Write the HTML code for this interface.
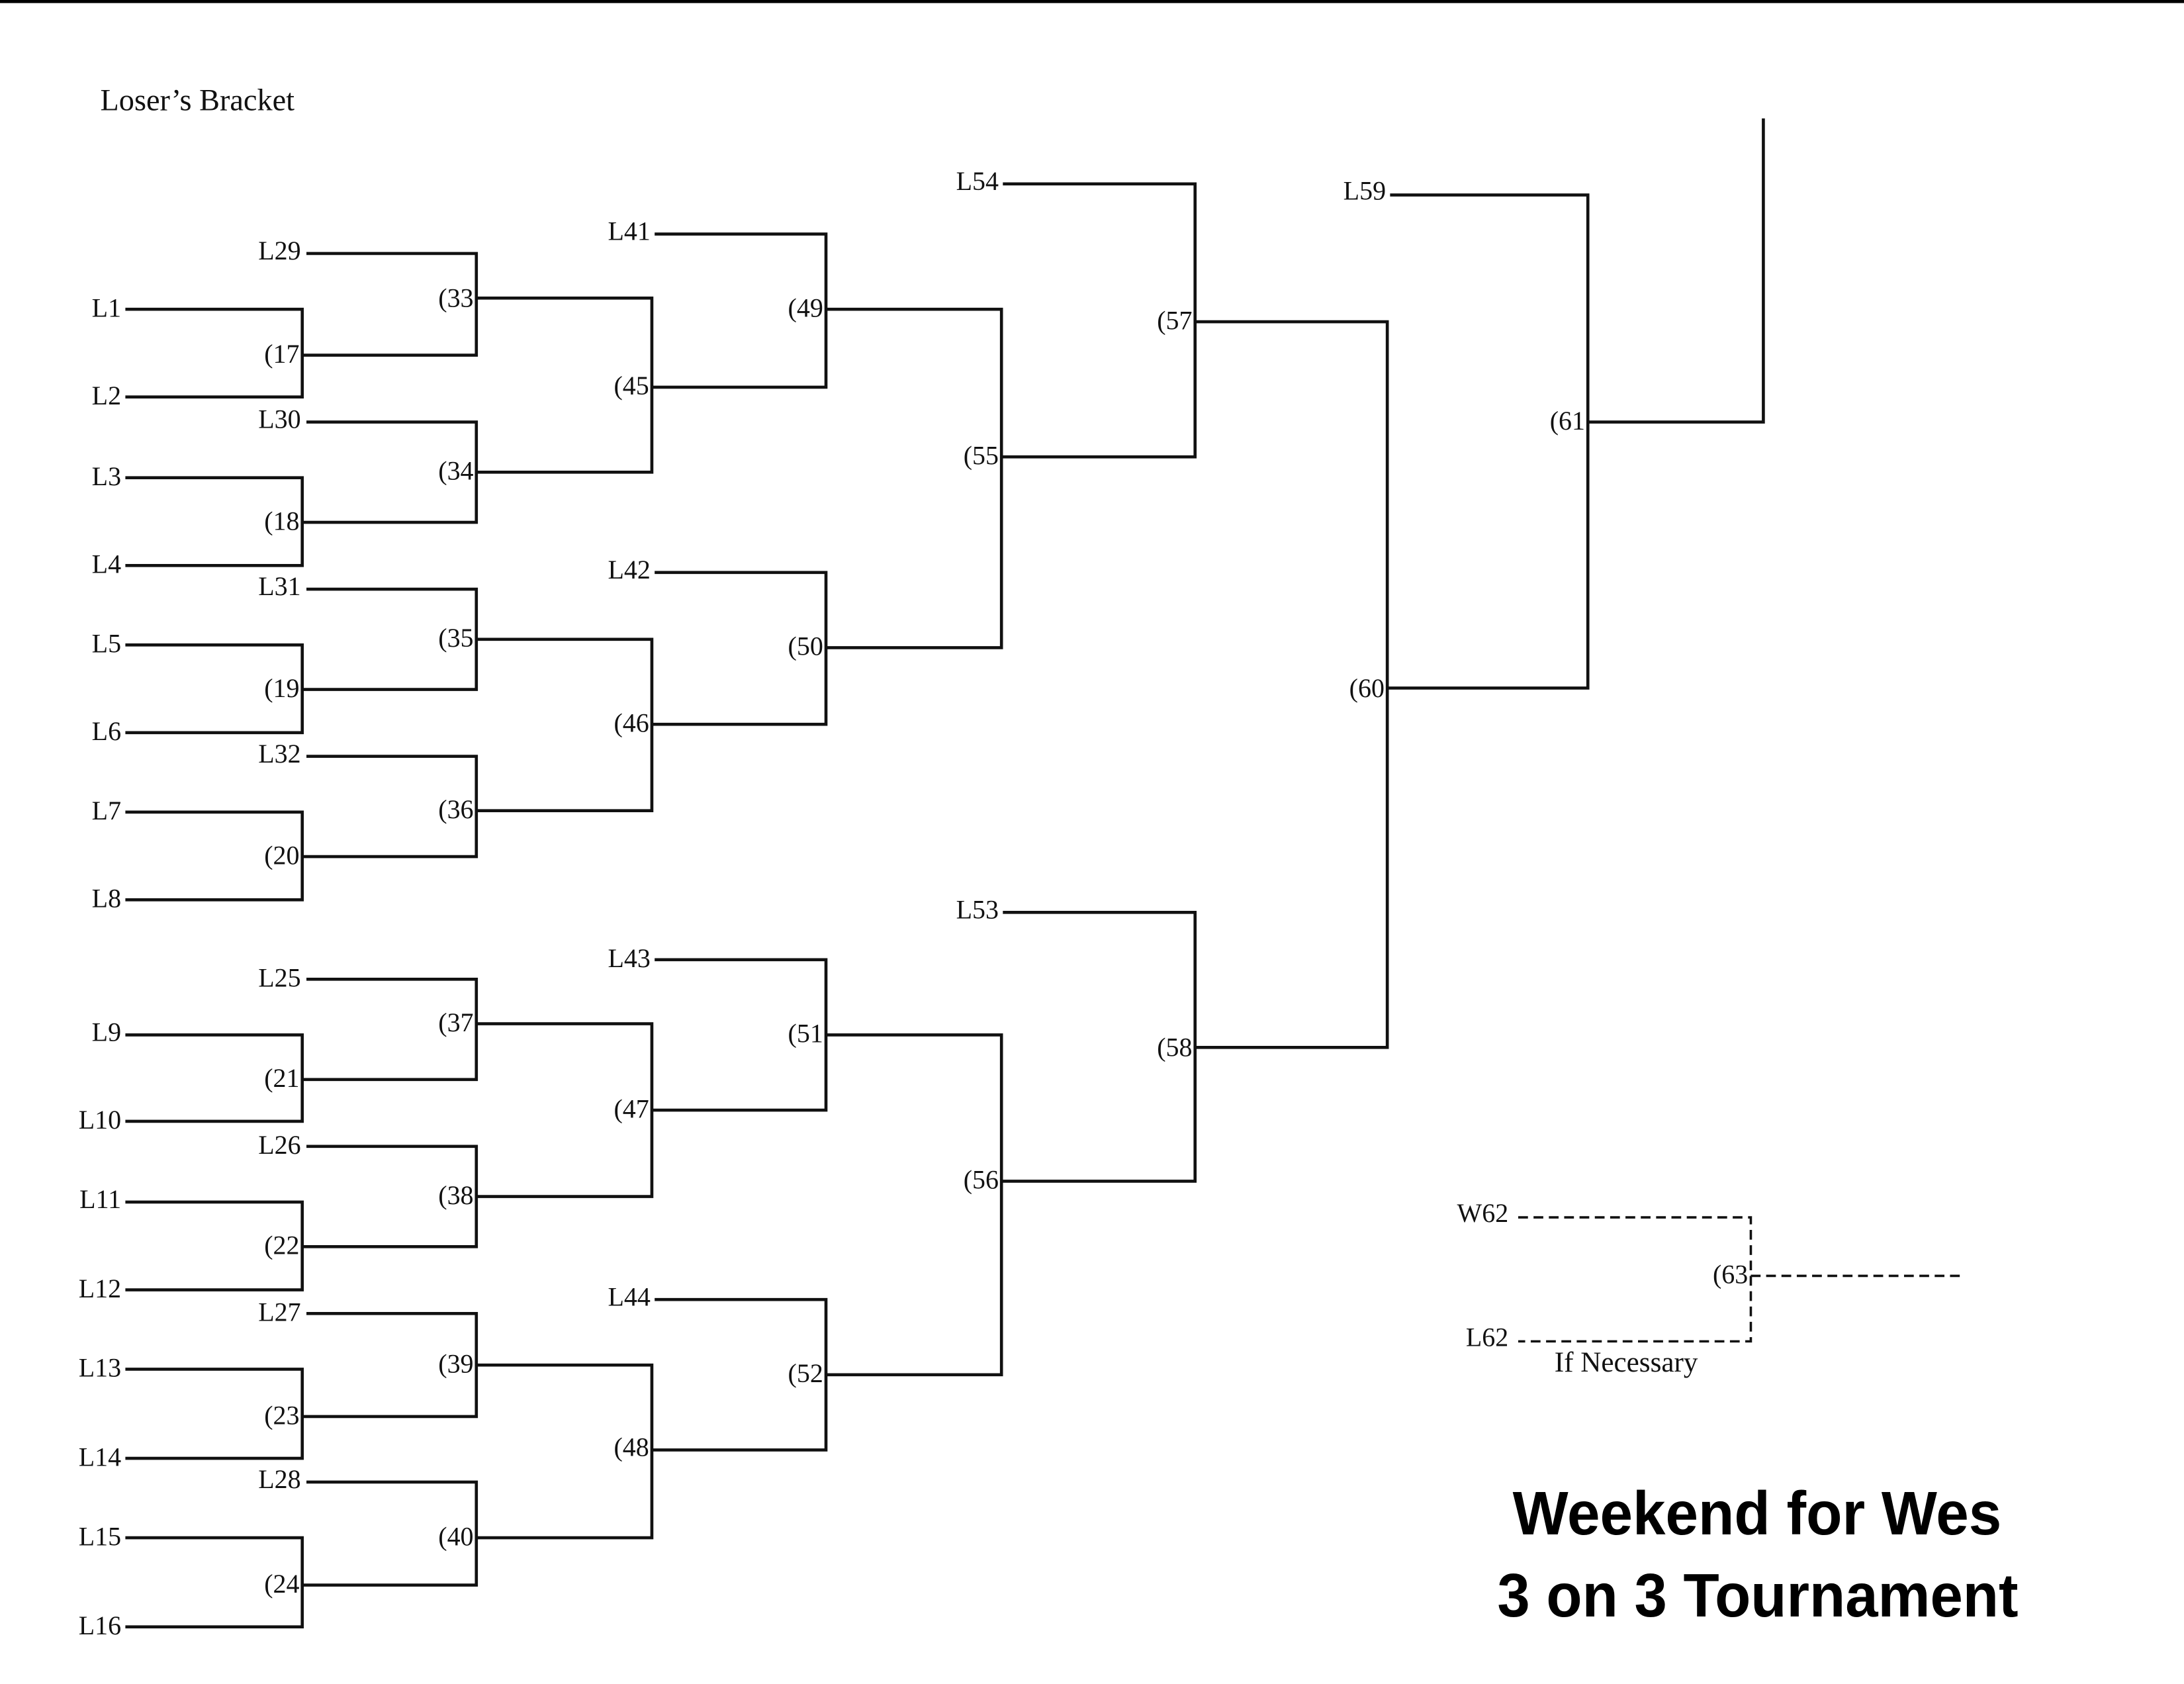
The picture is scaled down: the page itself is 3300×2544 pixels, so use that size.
<!DOCTYPE html>
<html><head><meta charset="utf-8"><style>
html,body{margin:0;padding:0;background:#fff;}
svg{display:block;}
text{font-family:"Liberation Serif",serif;font-size:19px;fill:#111;dominant-baseline:middle;}
.e{text-anchor:end;}
</style></head><body>
<svg width="3300" height="2544" viewBox="0 0 1568 1209" preserveAspectRatio="none" xmlns="http://www.w3.org/2000/svg">
<rect x="0" y="0" width="1568" height="2.2" fill="#000"/>
<g fill="none" stroke="#111" stroke-width="2.2">
<path d="M90 222H217V285H90"/><path d="M90 343H217V406H90"/>
<path d="M90 463H217V526H90"/><path d="M90 583H217V646H90"/>
<path d="M90 743H217V805H90"/><path d="M90 863H217V926H90"/>
<path d="M90 983H217V1047H90"/><path d="M90 1104H217V1168H90"/>
<path d="M220 182H342V255H217"/><path d="M220 303H342V375H217"/>
<path d="M220 423H342V495H217"/><path d="M220 543H342V615H217"/>
<path d="M220 703H342V775H217"/><path d="M220 823H342V895H217"/>
<path d="M220 943H342V1017H217"/><path d="M220 1064H342V1138H217"/>
<path d="M342 214H468V339H342"/><path d="M342 459H468V582H342"/>
<path d="M342 735H468V859H342"/><path d="M342 980H468V1104H342"/>
<path d="M470 168H593V278H468"/><path d="M470 411H593V520H468"/>
<path d="M470 689H593V797H468"/><path d="M470 933H593V1041H468"/>
<path d="M593 222H719V465H593"/><path d="M593 743H719V987H593"/>
<path d="M720 132H858V328H719"/><path d="M720 655H858V848H719"/>
<path d="M858 231H996V752H858"/>
<path d="M998 140H1140V494H996"/>
<path d="M1140 303H1266V85"/>
</g>
<g fill="none" stroke="#111" stroke-width="1.7" stroke-dasharray="7,4">
<path d="M1090 874H1257V963H1090"/>
<path d="M1257 916H1410"/>
</g>
<text x="72" y="74" style="font-size:22px">Loser’s Bracket</text>
<g>
<text class="e" x="87" y="223">L1</text><text class="e" x="87" y="286">L2</text>
<text class="e" x="87" y="344">L3</text><text class="e" x="87" y="407">L4</text>
<text class="e" x="87" y="464">L5</text><text class="e" x="87" y="527">L6</text>
<text class="e" x="87" y="584">L7</text><text class="e" x="87" y="647">L8</text>
<text class="e" x="87" y="743">L9</text><text class="e" x="87" y="806">L10</text>
<text class="e" x="87" y="863">L11</text><text class="e" x="87" y="927">L12</text>
<text class="e" x="87" y="984">L13</text><text class="e" x="87" y="1048">L14</text>
<text class="e" x="87" y="1105">L15</text><text class="e" x="87" y="1169">L16</text>
<text class="e" x="216" y="182">L29</text><text class="e" x="216" y="303">L30</text>
<text class="e" x="216" y="423">L31</text><text class="e" x="216" y="543">L32</text>
<text class="e" x="216" y="704">L25</text><text class="e" x="216" y="824">L26</text>
<text class="e" x="216" y="944">L27</text><text class="e" x="216" y="1064">L28</text>
<text class="e" x="467" y="168">L41</text><text class="e" x="467" y="411">L42</text>
<text class="e" x="467" y="690">L43</text><text class="e" x="467" y="933">L44</text>
<text class="e" x="717" y="132">L54</text><text class="e" x="717" y="655">L53</text>
<text class="e" x="995" y="139">L59</text>
<text class="e" x="1083" y="873">W62</text><text class="e" x="1083" y="962">L62</text>
<text class="e" x="215" y="256">(17</text><text class="e" x="215" y="376">(18</text>
<text class="e" x="215" y="496">(19</text><text class="e" x="215" y="616">(20</text>
<text class="e" x="215" y="776">(21</text><text class="e" x="215" y="896">(22</text>
<text class="e" x="215" y="1018">(23</text><text class="e" x="215" y="1139">(24</text>
<text class="e" x="340" y="216">(33</text><text class="e" x="340" y="340">(34</text>
<text class="e" x="340" y="460">(35</text><text class="e" x="340" y="583">(36</text>
<text class="e" x="340" y="736">(37</text><text class="e" x="340" y="860">(38</text>
<text class="e" x="340" y="981">(39</text><text class="e" x="340" y="1105">(40</text>
<text class="e" x="466" y="279">(45</text><text class="e" x="466" y="521">(46</text>
<text class="e" x="466" y="798">(47</text><text class="e" x="466" y="1041">(48</text>
<text class="e" x="591" y="223">(49</text><text class="e" x="591" y="466">(50</text>
<text class="e" x="591" y="744">(51</text><text class="e" x="591" y="988">(52</text>
<text class="e" x="717" y="329">(55</text><text class="e" x="717" y="849">(56</text>
<text class="e" x="856" y="232">(57</text><text class="e" x="856" y="754">(58</text>
<text class="e" x="994" y="496">(60</text>
<text class="e" x="1138" y="304">(61</text>
<text class="e" x="1255" y="917">(63</text>
</g>
<text x="1116" y="980" style="font-size:20.5px">If Necessary</text>
<text x="1086" y="1090" textLength="351" lengthAdjust="spacingAndGlyphs" style="font-family:'Liberation Sans',sans-serif;font-weight:bold;font-size:44px;fill:#000">Weekend for Wes</text>
<text x="1075" y="1149" textLength="374" lengthAdjust="spacingAndGlyphs" style="font-family:'Liberation Sans',sans-serif;font-weight:bold;font-size:44px;fill:#000">3 on 3 Tournament</text>
</svg>
</body></html>
